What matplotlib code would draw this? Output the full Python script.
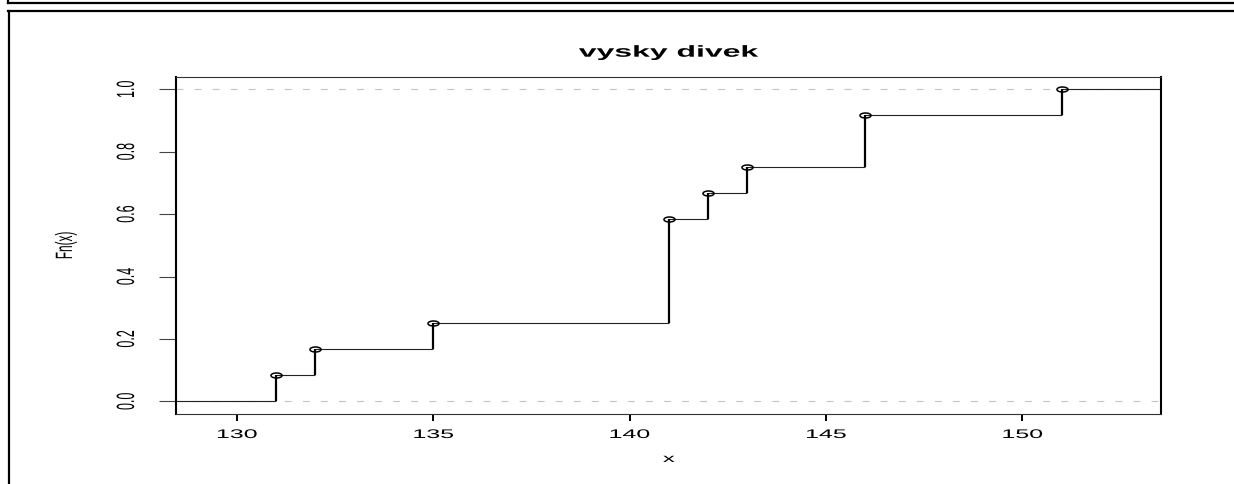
import numpy as np
import matplotlib
matplotlib.use("Agg")
import matplotlib.pyplot as plt
from matplotlib.path import Path
from matplotlib.lines import Line2D
from matplotlib.patheffects import AbstractPathEffect
from matplotlib.transforms import Affine2D, blended_transform_factory

# heights of the girls (cm)
vysky = [131, 132, 135, 141, 141, 141, 141, 142, 143, 146, 146, 151]
x_ticks = [130, 135, 140, 145, 150]
y_ticks = [0.0, 0.2, 0.4, 0.6, 0.8, 1.0]
y_tick_labels = ["0.0", "0.2", "0.4", "0.6", "0.8", "1.0"]
title = "vysky divek"
x_label = "x"
y_label = "Fn(x)"

W, H = 1234, 484
plt.rcParams["font.family"] = ["Liberation Sans", "DejaVu Sans"]
plt.rcParams["lines.scale_dashes"] = False


class HStretch(AbstractPathEffect):
    """Widen glyphs horizontally around the text's anchor point."""

    def __init__(self, text, sx=2.0):
        super().__init__()
        self.text = text
        self.sx = sx

    def draw_path(self, renderer, gc, tpath, affine, rgbFace=None):
        x0 = self.text.get_transform().transform(self.text.get_position())[0]
        aff = affine + Affine2D().translate(-x0, 0).scale(self.sx, 1).translate(x0, 0)
        renderer.draw_path(gc, tpath, aff, rgbFace)


def stretched(t, sx=2.0):
    t.set_path_effects([HStretch(t, sx)])
    return t


def fx(px):
    return px / W


def fy(py):
    return 1 - py / H


fig = plt.figure(figsize=(W / 100, H / 100), dpi=100)
ax = fig.add_axes([fx(176.3), fy(413.8), (1161.3 - 176.3) / W, (413.8 - 76.8) / H])

# empirical distribution function
vals = np.sort(np.array(vysky))
knots, counts = np.unique(vals, return_counts=True)
Fn = np.cumsum(counts) / len(vals)

xlim = (128.46, 153.54)
ax.set_xlim(xlim)
ax.set_ylim(-0.04, 1.04)

# dashed reference lines at 0 and 1
for lvl in (0.0, 1.0):
    ax.axhline(lvl, color="#c4c4c4", lw=0.8, dashes=(5, 8), zorder=1)

levels = np.concatenate([[0.0], Fn])
edges = np.concatenate([[xlim[0] - 1], knots, [xlim[1] + 1]])
ax.hlines(levels, edges[:-1], edges[1:], color="#222222", lw=0.8, zorder=2)
ax.vlines(knots, levels[:-1], levels[1:], color="black", lw=1.6, zorder=3)

# open, horizontally wide circles at the jumps
circ = Path.unit_circle()
oval = Path(circ.vertices * np.array([1.0, 0.45]), circ.codes)
ax.plot(knots, Fn, linestyle="none", marker=oval, ms=8, mfc="none",
        mec="black", mew=1.1, zorder=4)

# frame
for side in ("left", "right"):
    ax.spines[side].set_linewidth(1.5)
    ax.spines[side].set_color("black")
for side in ("top", "bottom"):
    ax.spines[side].set_linewidth(0.8)
    ax.spines[side].set_color("#333333")

ax.set_xticks(x_ticks)
ax.set_yticks(y_ticks)
ax.tick_params(axis="x", direction="out", length=5, width=1.4, color="black",
               labelbottom=False)
ax.tick_params(axis="y", direction="out", length=12, width=0.8, color="#444444",
               labelleft=False)

xt = blended_transform_factory(ax.transData, fig.transFigure)
for v in x_ticks:
    stretched(fig.text(v, fy(438), str(v), transform=xt, ha="center",
                       va="baseline", fontsize=9))

yt = blended_transform_factory(fig.transFigure, ax.transData)
for v, lab in zip(y_ticks, y_tick_labels):
    stretched(fig.text(fx(128), v, lab, transform=yt, rotation=90,
                       ha="center", va="center", fontsize=9))

stretched(fig.text(fx(668.8), fy(56.7), title, ha="center", va="baseline",
                   fontsize=11.5, fontweight="bold"))
stretched(fig.text(fx(668.8), fy(462), x_label, ha="center", va="baseline",
                   fontsize=8.5))
stretched(fig.text(fx(66), fy(245.3), y_label, rotation=90, ha="center",
                   va="center", fontsize=8.5))

# surrounding panel borders
border = dict(color="black", lw=1.6, transform=fig.transFigure)
fig.add_artist(Line2D([fx(8), fx(W)], [fy(3.2), fy(3.2)], **border))
fig.add_artist(Line2D([fx(8), fx(8)], [fy(0), fy(3.2)], **border))
fig.add_artist(Line2D([fx(8), fx(W)], [fy(10.8), fy(10.8)], **border))
fig.add_artist(Line2D([fx(8.5), fx(8.5)], [fy(10.8), fy(H)], **border))

fig.savefig("out.png", dpi=100)
